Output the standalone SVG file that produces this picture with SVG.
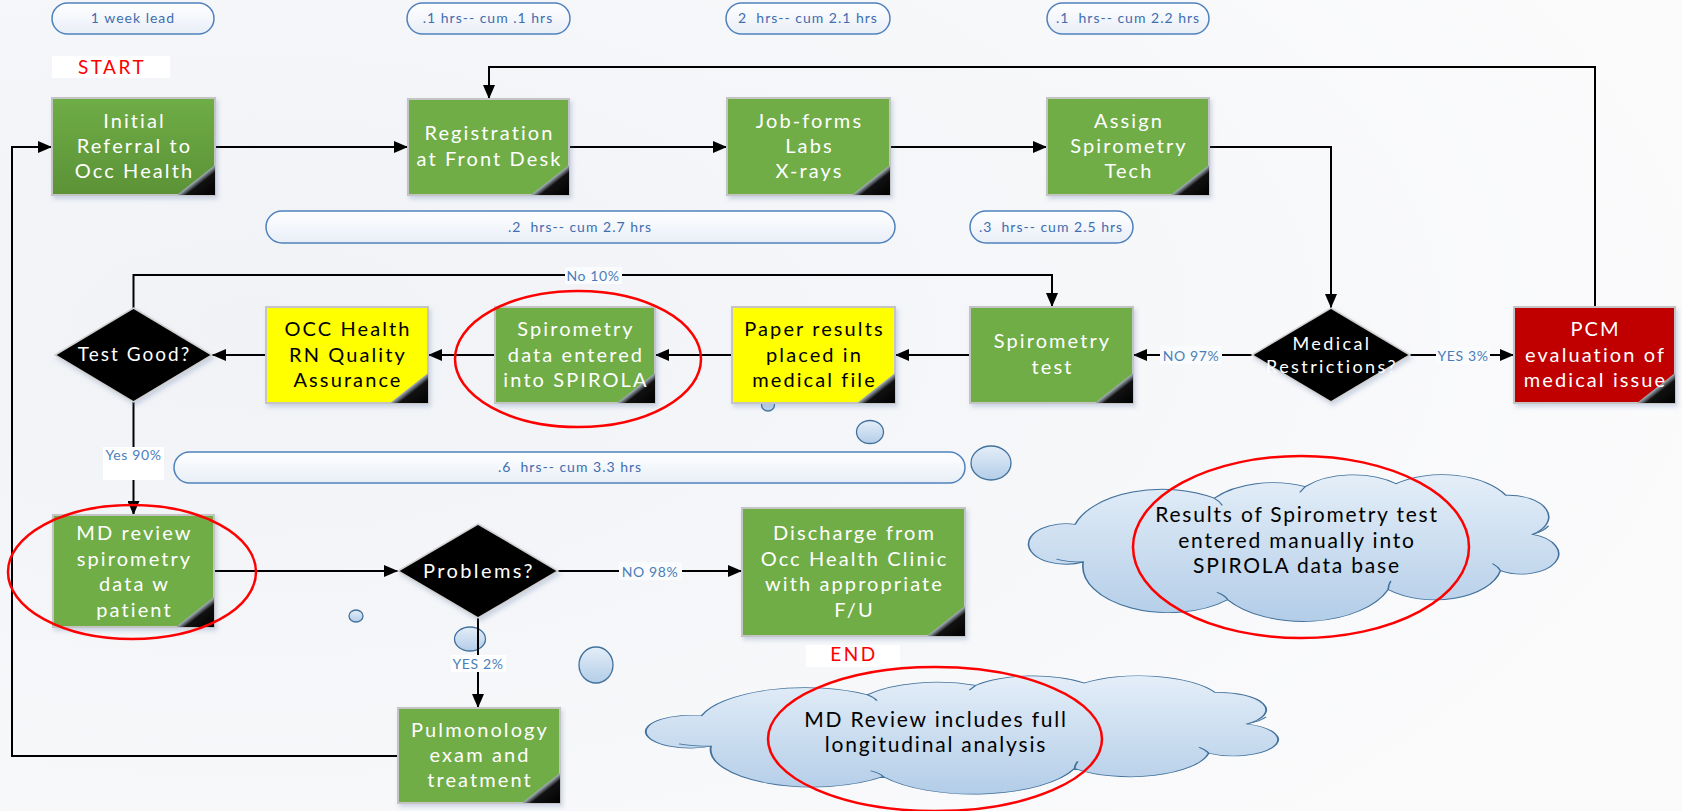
<svg xmlns="http://www.w3.org/2000/svg" width="1682" height="811" viewBox="0 0 1682 811">
<defs>
<style>
.bt{font-family:Lato,"Liberation Sans",sans-serif;font-size:20px;letter-spacing:2.1px;fill:#fff;text-anchor:middle}
.bk{fill:#000}
.pt{font-family:Lato,"Liberation Sans",sans-serif;font-size:14px;letter-spacing:1px;fill:#3F6EB0;text-anchor:middle;white-space:pre}
.lb{font-family:Lato,"Liberation Sans",sans-serif;font-size:14px;letter-spacing:0.6px;fill:#4A7EBB;text-anchor:middle}
.ct{font-family:Lato,"Liberation Sans",sans-serif;font-size:21px;letter-spacing:1.8px;fill:#000;text-anchor:middle}
.rt{font-family:Lato,"Liberation Sans",sans-serif;font-size:19px;letter-spacing:2.5px;fill:#FF0000;text-anchor:middle}
.box{stroke:#C4C4C4;stroke-width:2;filter:url(#sh)}
.g{fill:#70AD47}
.y{fill:#FFFF00}
.dia{fill:#000;stroke:#D0D0D0;stroke-width:1.5;filter:url(#sh)}
.pill{fill:url(#pg);stroke:#4F81BD;stroke-width:1.5}
.con{fill:none;stroke:#000;stroke-width:2}
.arr{marker-end:url(#ah)}
.bub{fill:url(#cg);stroke:#41719C;stroke-width:1.3}
.cloud{fill:url(#cg)}
.cls{fill:none;stroke:#41719C;stroke-width:1.3}
.red{fill:none;stroke:#FF0000;stroke-width:2.5}
.lbg{fill:#FAFBFC}
</style>
<filter id="sh" x="-10%" y="-10%" width="130%" height="130%">
<feDropShadow dx="2" dy="3" stdDeviation="2" flood-color="#5070A0" flood-opacity="0.25"/>
</filter>
<linearGradient id="pg" x1="0" y1="0" x2="0" y2="1"><stop offset="0" stop-color="#FFFFFF"/><stop offset="1" stop-color="#E8EEF7"/></linearGradient>
<linearGradient id="cg" x1="0" y1="0" x2="0" y2="1"><stop offset="0" stop-color="#E4EEF8"/><stop offset="1" stop-color="#B3CDE8"/></linearGradient>
<linearGradient id="ig" x1="0" y1="0" x2="0" y2="1"><stop offset="0" stop-color="#6FAD46"/><stop offset="1" stop-color="#5B9236"/></linearGradient>
<linearGradient id="tg" x1="0" y1="0" x2="1" y2="1"><stop offset="0.5" stop-color="#A8B4C0"/><stop offset="0.62" stop-color="#111"/><stop offset="1" stop-color="#000"/></linearGradient>
<radialGradient id="bg" cx="0.15" cy="0.4" r="0.9"><stop offset="0" stop-color="#F0F2F6"/><stop offset="1" stop-color="#FBFBFC"/></radialGradient>
<marker id="ah" markerWidth="14" markerHeight="12" refX="14" refY="6" orient="auto" markerUnits="userSpaceOnUse"><path d="M0,0 L14,6 L0,12 z" fill="#000"/></marker>
<path id="cl" d="M21,60 A14 14 0 1 1 18,34 A34 34 0 0 1 70,16 A28 28 0 0 1 104,8 A24 24 0 0 1 138,6 A27 27 0 0 1 179,14 A15 15 0 0 1 189,41 A14 14 0 1 1 177,66 A25 25 0 0 1 135,79 A34 34 0 0 1 75,86 A32 32 0 0 1 21,60 Z"/>
<path id="cs" d="M21,60 Q15,60 11,58 M70,16 Q72,18 73,21 M104,8 Q103,10 102,12 M189,41 Q193,39 195,35 M177,66 Q176,63 174,61 M135,79 Q135,76 136,73 M75,86 Q74,83 71,81"/>
</defs>
<rect width="1682" height="811" fill="url(#bg)"/>

<g id="pills">
<rect class="pill" x="52" y="3" width="162" height="31" rx="15.5"/><text class="pt" x="133" y="23">1 week lead</text>
<rect class="pill" x="407" y="3" width="163" height="31" rx="15.5"/><text class="pt" x="488" y="23">.1 hrs-- cum .1 hrs</text>
<rect class="pill" x="726" y="3" width="164" height="31" rx="15.5"/><text class="pt" x="808" y="23">2  hrs-- cum 2.1 hrs</text>
<rect class="pill" x="1047" y="3" width="162" height="31" rx="15.5"/><text class="pt" x="1128" y="23">.1  hrs-- cum 2.2 hrs</text>
<rect class="pill" x="266" y="211" width="629" height="32" rx="16"/><text class="pt" x="580" y="232">.2  hrs-- cum 2.7 hrs</text>
<rect class="pill" x="970" y="211" width="163" height="32" rx="16"/><text class="pt" x="1051" y="232">.3  hrs-- cum 2.5 hrs</text>
<rect class="pill" x="174" y="452" width="791" height="31" rx="15.5"/><text class="pt" x="570" y="472">.6  hrs-- cum 3.3 hrs</text>
</g>

<g id="bubbles">
<ellipse class="bub" cx="768" cy="405" rx="6.5" ry="6"/>
<ellipse class="bub" cx="870" cy="432" rx="13.5" ry="11.5"/>
<ellipse class="bub" cx="991" cy="463" rx="20" ry="17"/>
<ellipse class="bub" cx="356" cy="616" rx="7" ry="6"/>
<ellipse class="bub" cx="470" cy="639" rx="15.5" ry="12"/>
<ellipse class="bub" cx="596" cy="665" rx="17" ry="18"/>
</g>

<g id="connectors">
<path class="con arr" d="M215,147 H408"/>
<path class="con arr" d="M569,147 H727"/>
<path class="con arr" d="M890,147 H1047"/>
<path class="con arr" d="M1209,147 H1331 V308"/>
<path class="con arr" d="M1252,355 H1133"/>
<path class="con arr" d="M1410,355 H1514"/>
<path class="con arr" d="M1595,307 V67 H489 V99"/>
<path class="con arr" d="M970,355 H895"/>
<path class="con arr" d="M732,355 H655"/>
<path class="con arr" d="M495,355 H428"/>
<path class="con arr" d="M266,355 H212"/>
<path class="con arr" d="M133.5,308 V275 H1052 V307"/>
<path class="con arr" d="M133.5,402 V515"/>
<path class="con arr" d="M214,571 H398"/>
<path class="con arr" d="M558,571 H742"/>
<path class="con arr" d="M478,618 V708"/>
<path class="con arr" d="M398,756 H12 V147 H52"/>
<rect class="lbg" x="1160" y="346" width="62" height="18"/><text class="lb" x="1191" y="361">NO 97%</text>
<rect class="lbg" x="1436" y="346" width="54" height="18"/><text class="lb" x="1463" y="361">YES 3%</text>
<rect class="lbg" x="565" y="267" width="57" height="17"/><text class="lb" x="593" y="281">No 10%</text>
<rect fill="#FFFFFF" x="103" y="447" width="61" height="33"/><text class="lb" x="133.5" y="460">Yes 90%</text>
<rect class="lbg" x="619" y="562" width="63" height="18"/><text class="lb" x="650" y="577">NO 98%</text>
<rect fill="#FFFFFF" x="451" y="655" width="55" height="17"/><text class="lb" x="478" y="669">YES 2%</text>
</g>

<g id="start"><rect fill="#FFFFFF" x="52" y="56" width="118" height="22"/><text class="rt" x="112" y="74">START</text></g>

<g id="initial"><rect class="box" fill="url(#ig)" x="52" y="98" width="163" height="97"/><path d="M215,165 V195 H177 Z" fill="url(#tg)"/>
<text class="bt" x="134.5" y="128">Initial</text><text class="bt" x="134.5" y="153">Referral to</text><text class="bt" x="134.5" y="178">Occ Health</text></g>

<g id="registration"><rect class="box g" x="408" y="99" width="161" height="96"/><path d="M569,165 V195 H531 Z" fill="url(#tg)"/>
<text class="bt" x="489.5" y="140">Registration</text><text class="bt" x="489.5" y="166">at Front Desk</text></g>

<g id="jobforms"><rect class="box g" x="727" y="98" width="163" height="97"/><path d="M890,165 V195 H852 Z" fill="url(#tg)"/>
<text class="bt" x="809.5" y="128">Job-forms</text><text class="bt" x="809.5" y="153">Labs</text><text class="bt" x="809.5" y="178">X-rays</text></g>

<g id="assign"><rect class="box g" x="1047" y="98" width="162" height="97"/><path d="M1209,165 V195 H1171 Z" fill="url(#tg)"/>
<text class="bt" x="1129" y="128">Assign</text><text class="bt" x="1129" y="153">Spirometry</text><text class="bt" x="1129" y="178">Tech</text></g>

<g id="medical"><path class="dia" d="M1331,308 L1410,355 L1331,402 L1252,355 Z"/>
<text class="bt" style="font-size:18px;letter-spacing:2.4px" x="1332" y="350">Medical</text><text class="bt" style="font-size:18px;letter-spacing:2.4px" x="1332" y="373">Restrictions?</text></g>

<g id="pcm"><rect class="box" fill="#C00000" x="1514" y="307" width="161" height="96"/><path d="M1675,373 V403 H1637 Z" fill="url(#tg)"/>
<text class="bt" x="1595.5" y="336">PCM</text><text class="bt" x="1595.5" y="362">evaluation of</text><text class="bt" x="1595.5" y="387">medical issue</text></g>

<g id="spirotest"><rect class="box g" x="970" y="307" width="163" height="96"/><path d="M1133,373 V403 H1095 Z" fill="url(#tg)"/>
<text class="bt" x="1052.5" y="348">Spirometry</text><text class="bt" x="1052.5" y="374">test</text></g>

<g id="paper"><rect class="box y" x="732" y="307" width="163" height="96"/><path d="M895,373 V403 H857 Z" fill="url(#tg)"/>
<text class="bt bk" x="814.5" y="336">Paper results</text><text class="bt bk" x="814.5" y="362">placed in</text><text class="bt bk" x="814.5" y="387">medical file</text></g>

<g id="spirodata"><rect class="box g" x="495" y="307" width="160" height="96"/><path d="M655,373 V403 H617 Z" fill="url(#tg)"/>
<text class="bt" x="576" y="336">Spirometry</text><text class="bt" x="576" y="362">data entered</text><text class="bt" x="576" y="387">into SPIROLA</text></g>

<g id="occqa"><rect class="box y" x="266" y="307" width="162" height="96"/><path d="M428,373 V403 H390 Z" fill="url(#tg)"/>
<text class="bt bk" x="348" y="336">OCC Health</text><text class="bt bk" x="348" y="362">RN Quality</text><text class="bt bk" x="348" y="387">Assurance</text></g>

<g id="testgood"><path class="dia" d="M133.5,308 L212,355 L133.5,402 L55,355 Z"/>
<text class="bt" style="font-size:19px;letter-spacing:2px" x="134.5" y="361">Test Good?</text></g>

<g id="mdreview"><rect class="box g" x="53" y="515" width="161" height="112"/><path d="M214,597 V627 H176 Z" fill="url(#tg)"/>
<text class="bt" x="134.5" y="540">MD review</text><text class="bt" x="134.5" y="566">spirometry</text><text class="bt" x="134.5" y="591">data w</text><text class="bt" x="134.5" y="617">patient</text></g>

<g id="problems"><path class="dia" d="M478,524 L558,571 L478,618 L398,571 Z"/>
<text class="bt" style="font-size:20px;letter-spacing:2.4px" x="479" y="578">Problems?</text></g>

<g id="discharge"><rect class="box g" x="742" y="508" width="223" height="128"/><path d="M965,606 V636 H927 Z" fill="url(#tg)"/>
<text class="bt" x="854.5" y="540">Discharge from</text><text class="bt" x="854.5" y="566">Occ Health Clinic</text><text class="bt" x="854.5" y="591">with appropriate</text><text class="bt" x="854.5" y="617">F/U</text></g>

<g id="end"><rect fill="#FFFFFF" x="806" y="645" width="94" height="22"/><text class="rt" x="854" y="661">END</text></g>

<g id="pulmonology"><rect class="box g" x="398" y="708" width="162" height="95"/><path d="M560,773 V803 H522 Z" fill="url(#tg)"/>
<text class="bt" x="480" y="737">Pulmonology</text><text class="bt" x="480" y="762">exam and</text><text class="bt" x="480" y="787">treatment</text></g>

<g id="cloud1">
<g transform="translate(1027,475) scale(2.675,1.45)">
<use href="#cl" class="cloud"/>
<use href="#cl" class="cls" style="stroke-width:0.6"/>
<use href="#cs" class="cls" style="stroke-width:0.6"/>
</g>
<text class="ct" x="1297" y="522">Results of Spirometry test</text>
<text class="ct" x="1297" y="548">entered manually into</text>
<text class="ct" x="1297" y="573">SPIROLA data base</text>
</g>

<g id="cloud2">
<g transform="translate(644,676) scale(3.19,1.17)">
<use href="#cl" class="cloud"/>
<use href="#cl" class="cls" style="stroke-width:0.6"/>
<use href="#cs" class="cls" style="stroke-width:0.6"/>
</g>
<text class="ct" x="936" y="727">MD Review includes full</text>
<text class="ct" x="936" y="752">longitudinal analysis</text>
</g>

<g id="highlights">
<ellipse class="red" cx="578" cy="359" rx="123" ry="68"/>
<ellipse class="red" cx="132" cy="572" rx="124" ry="67"/>
<ellipse class="red" cx="1301" cy="547" rx="168" ry="91"/>
<ellipse class="red" cx="935" cy="739" rx="167" ry="72"/>
</g>
</svg>
